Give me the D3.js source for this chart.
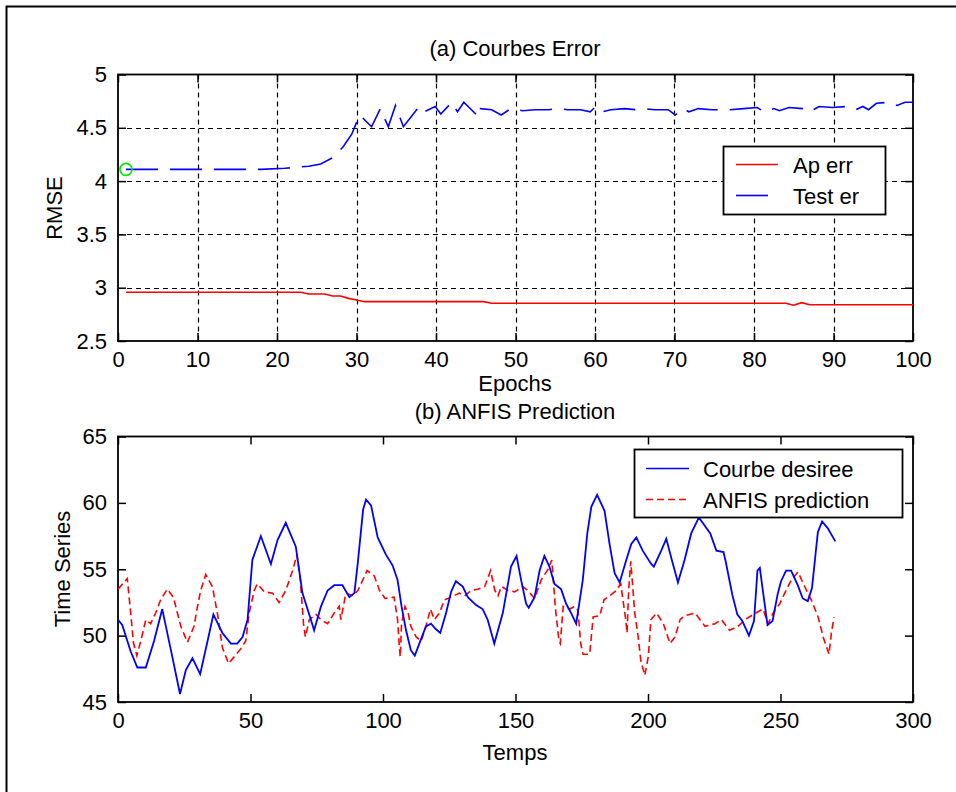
<!DOCTYPE html>
<html>
<head>
<meta charset="utf-8">
<script src="https://cdn.jsdelivr.net/npm/d3@7"></script>
<style>
  html, body { margin: 0; padding: 0; background: #fff; }
  svg { display: block; }
  text { font-family: "Liberation Sans", Arial, sans-serif; fill: #000; }
</style>
</head>
<body>
<svg id="chart" width="956" height="792"></svg>
<script>
// ---------- (a) Courbes Error ----------
const epochTicks = [0, 10, 20, 30, 40, 50, 60, 70, 80, 90, 100];
const rmseTicks = [2.5, 3, 3.5, 4, 4.5, 5];

const trainEpoch = [1, 23, 24, 26, 27, 28, 29, 30, 31, 46, 47, 84, 85, 86, 87, 100];
const trainErr   = [2.957, 2.957, 2.941, 2.941, 2.922, 2.922, 2.90, 2.885, 2.869, 2.869, 2.854, 2.854, 2.835, 2.86, 2.84, 2.84];

const testEpoch = [1, 18, 21, 24, 25.5, 27, 28.3, 29.4, 30.4, 31.9, 33, 34, 34.9, 35.9, 37.9, 38.5, 39.9, 40.6, 42, 42.7, 43.5, 45.4, 45.6, 47, 48.2, 49.4, 50.9, 52.5, 54.2, 55.1, 56.6, 58.2, 59.4, 60.1, 60.9, 62, 63.7, 65.1, 66.1, 67.5, 69.2, 70.1, 71.1, 71.8, 73, 74.7, 77, 78.7, 80.4, 81.3, 82.5, 83.2, 84.4, 86.1, 87, 88.2, 89.9, 91.6, 92.8, 93.7, 94.4, 95.4, 97, 98, 99, 100];
const testErr   = [4.11, 4.11, 4.12, 4.14, 4.16, 4.22, 4.32, 4.44, 4.62, 4.51, 4.68, 4.51, 4.71, 4.51, 4.70, 4.65, 4.70, 4.63, 4.74, 4.65, 4.74, 4.60, 4.68, 4.67, 4.62, 4.68, 4.66, 4.67, 4.67, 4.68, 4.67, 4.67, 4.65, 4.70, 4.65, 4.67, 4.68, 4.67, 4.68, 4.67, 4.67, 4.62, 4.68, 4.65, 4.68, 4.67, 4.67, 4.68, 4.69, 4.65, 4.68, 4.66, 4.69, 4.68, 4.65, 4.70, 4.69, 4.70, 4.67, 4.70, 4.67, 4.73, 4.74, 4.71, 4.74, 4.74];
const bestEpoch = [1];
const bestErr = [4.11];

// ---------- (b) ANFIS Prediction ----------
const tempsTicks = [0, 50, 100, 150, 200, 250, 300];
const seriesTicks = [45, 50, 55, 60, 65];

const desT = [0, 1.6, 4.8, 7.3, 10.5, 13.6, 16.7, 20.5, 23.4, 25.6, 28.1, 31, 33.8, 36, 39.4, 42.6, 45, 47, 48.9, 50.7, 53.9, 57.7, 60.2, 63.3, 67.1, 69.6, 72.8, 74, 76.6, 79.1, 81.6, 84.7, 87.3, 89.2, 90.5, 92.5, 93.6, 95.5, 98, 101.1, 103.6, 105.5, 107, 108.7, 110.5, 112, 114.1, 116.2, 118.1, 119.9, 121.6, 123.8, 125.7, 127.5, 130.1, 132, 135.1, 137.6, 139.5, 142, 145.2, 148.3, 150.4, 152.1, 154, 155, 157.2, 159.1, 160.9, 162.8, 164.7, 167.2, 169.1, 171, 172.9, 175.4, 177.1, 178.6, 180.8, 183.6, 185.5, 187.4, 189.3, 191.8, 193.7, 195.6, 198, 201.2, 202.2, 205, 206.9, 209, 211.3, 213.8, 216.3, 219.2, 223.5, 225.8, 228.5, 229.3, 231.8, 233.7, 235.6, 238.1, 240, 241.3, 242.2, 243.2, 245.1, 247, 248.9, 250.2, 252.1, 254, 256.5, 258.4, 260.3, 261.9, 263.2, 264.1, 265.7, 267.8, 270.7];
const desV = [51.2, 50.8, 48.8, 47.6, 47.6, 49.6, 52.0, 48.4, 45.6, 47.4, 48.3, 47.1, 49.6, 51.6, 50.2, 49.4, 49.4, 49.9, 51.2, 55.7, 57.5, 55.4, 57.2, 58.5, 56.7, 53.2, 51.2, 50.4, 52.2, 53.4, 53.8, 53.8, 52.9, 53.2, 55.5, 59.5, 60.25, 59.8, 57.4, 56.1, 55.3, 54.2, 52.2, 50.4, 48.9, 48.5, 49.6, 50.7, 50.9, 50.5, 50.2, 51.7, 53.3, 54.1, 53.7, 52.9, 52.3, 52.0, 51.2, 49.4, 51.7, 55.2, 56.0, 54.2, 52.4, 52.1, 52.9, 54.9, 56.0, 55.2, 53.9, 53.5, 52.4, 51.7, 50.9, 54.2, 57.7, 59.7, 60.6, 59.4, 56.9, 54.7, 54.0, 55.7, 56.9, 57.4, 56.4, 55.4, 55.2, 56.4, 57.3, 55.7, 54.0, 55.7, 57.7, 58.9, 57.7, 56.4, 56.3, 55.6, 53.1, 51.6, 51.1, 50.0, 51.1, 54.9, 55.1, 53.6, 50.8, 51.1, 53.1, 54.1, 54.9, 54.9, 53.8, 52.8, 52.6, 53.6, 56.1, 57.8, 58.6, 58.1, 57.1];

const predT = [0, 3.5, 4.8, 5.8, 7.1, 8.6, 10.5, 12.3, 14.2, 16.1, 18.6, 20.9, 23.7, 26.2, 28.7, 30, 31.2, 33.1, 35.6, 37.5, 39.4, 41.7, 43.8, 46.3, 48.2, 49.5, 51.4, 52.6, 55.2, 58.3, 60.8, 63.3, 65.9, 67.5, 68.8, 70, 70.7, 72.2, 74.7, 76.6, 79.1, 81.6, 83.5, 84.1, 86, 88.6, 90.5, 92.4, 94, 96.7, 98.7, 100.8, 104.2, 105.5, 106.1, 106.5, 107, 108.3, 109.5, 110.5, 112.5, 114.4, 116.2, 117.9, 119.4, 121.3, 123.2, 125.7, 128.8, 130.8, 133.3, 135.8, 138.4, 140.6, 142.2, 143.4, 144.7, 147.2, 149.7, 152.7, 154.6, 157.2, 159.7, 162.3, 163.7, 165, 166.4, 166.9, 168, 170.4, 172.4, 173.6, 174.6, 175.5, 178, 179.3, 181.8, 183.4, 185.5, 188.1, 189.7, 191.6, 192.1, 192.7, 193.5, 195, 196.3, 197.3, 198.8, 200.1, 201.1, 203.2, 205.8, 208.3, 210.2, 212.1, 214, 217.8, 221.5, 225.3, 227.7, 230.8, 234, 236.5, 239, 241.5, 243.4, 245.3, 247.2, 249.7, 251.6, 254.1, 256.6, 259.1, 261.6, 264.2, 266.1, 268.3, 269.2, 270.2];
const predV = [53.5, 54.3, 51.7, 49.5, 48.5, 49.6, 51.2, 50.9, 51.7, 52.7, 53.5, 52.9, 50.7, 49.5, 50.7, 52.2, 53.4, 54.6, 53.7, 51.7, 49.1, 47.9, 48.4, 49.0, 49.6, 51.7, 53.4, 53.9, 53.3, 53.2, 52.5, 53.4, 54.9, 56.1, 54.2, 50.9, 49.9, 51.2, 51.6, 51.2, 50.9, 51.7, 52.2, 51.2, 53.2, 53.0, 53.4, 54.2, 54.9, 54.5, 53.4, 52.8, 52.9, 51.2, 49.4, 48.4, 50.9, 52.2, 51.7, 50.7, 49.9, 49.6, 50.7, 52.0, 51.2, 51.7, 52.7, 52.9, 53.2, 53.0, 53.4, 53.5, 53.7, 54.9, 53.4, 53.0, 53.7, 53.4, 53.3, 53.7, 53.4, 52.8, 54.2, 55.0, 55.7, 52.2, 49.6, 49.4, 52.2, 52.0, 52.2, 51.9, 49.4, 48.6, 48.6, 51.4, 51.5, 52.7, 53.0, 53.4, 53.9, 51.2, 50.2, 53.4, 55.6, 51.7, 49.9, 48.1, 47.0, 48.4, 51.2, 51.7, 50.9, 49.4, 49.9, 51.2, 51.5, 51.7, 50.7, 50.9, 51.2, 50.4, 50.7, 51.2, 51.5, 51.8, 52.0, 50.9, 51.7, 52.4, 53.2, 54.2, 54.8, 53.7, 52.7, 51.4, 49.9, 48.6, 50.2, 51.4];

const labels = {
  titleA: "(a) Courbes Error", xA: "Epochs", yA: "RMSE",
  legA: ["Ap err", "Test er"],
  titleB: "(b) ANFIS Prediction", xB: "Temps", yB: "Time Series",
  legB: ["Courbe desiree", "ANFIS prediction"]
};

// ---------------- drawing ----------------
const svg = d3.select("#chart");
const FONT = 22;

// outer frame (left + top)
svg.append("path").attr("d", "M6.5,792V6.5H956").attr("fill", "none")
  .attr("stroke", "#000").attr("stroke-width", 2);

function panel(cfg) {
  const { left, right, top, bottom, xDomain, yDomain, xTicks, yTicks, grid } = cfg;
  const x = d3.scaleLinear().domain(xDomain).range([left, right]);
  const y = d3.scaleLinear().domain(yDomain).range([bottom, top]);
  const g = svg.append("g");

  if (grid) {
    const gg = g.append("g").attr("stroke", "#000").attr("stroke-width", 1.2)
      .attr("stroke-dasharray", "5 4");
    gg.selectAll(".vx").data(xTicks.slice(1, -1)).join("line")
      .attr("x1", d => Math.round(x(d)) + 0.5).attr("x2", d => Math.round(x(d)) + 0.5)
      .attr("y1", top).attr("y2", bottom);
    gg.selectAll(".hy").data(yTicks.slice(1, -1)).join("line")
      .attr("y1", d => Math.round(y(d)) + 0.5).attr("y2", d => Math.round(y(d)) + 0.5)
      .attr("x1", left).attr("x2", right);
  }

  const axB = g.append("g").attr("transform", `translate(0,${bottom})`)
    .call(d3.axisBottom(x).tickValues(xTicks).tickFormat(d => String(d)).tickSize(-8).tickPadding(10));
  const axT = g.append("g").attr("transform", `translate(0,${top})`)
    .call(d3.axisTop(x).tickValues(xTicks).tickFormat("").tickSize(-8));
  const axL = g.append("g").attr("transform", `translate(${left},0)`)
    .call(d3.axisLeft(y).tickValues(yTicks).tickFormat(d => String(d)).tickSize(-8).tickPadding(11));
  const axR = g.append("g").attr("transform", `translate(${right},0)`)
    .call(d3.axisRight(y).tickValues(yTicks).tickFormat("").tickSize(-8));
  [axB, axT, axL, axR].forEach(a => {
    a.select(".domain").remove();
    a.selectAll("line").attr("stroke", "#000").attr("stroke-width", 1.5);
    a.selectAll("text").attr("font-size", FONT).attr("font-family", '"Liberation Sans", Arial, sans-serif').attr("fill", "#000");
  });
  g.append("rect").attr("x", left).attr("y", top).attr("width", right - left).attr("height", bottom - top)
    .attr("fill", "none").attr("stroke", "#000").attr("stroke-width", 1.8);
  return { x, y, g };
}

// ----- panel A -----
const A = panel({ left: 118, right: 913, top: 74.5, bottom: 341, xDomain: [0, 100], yDomain: [2.5, 5],
  xTicks: epochTicks, yTicks: rmseTicks, grid: true });

const lineA = d3.line().x(d => A.x(d[0])).y(d => A.y(d[1]));
A.g.append("path").datum(d3.zip(trainEpoch, trainErr)).attr("d", lineA)
  .attr("fill", "none").attr("stroke", "#ff0000").attr("stroke-width", 1.6);
A.g.append("path").datum(d3.zip(testEpoch, testErr)).attr("d", lineA)
  .attr("fill", "none").attr("stroke", "#0000ff").attr("stroke-width", 1.6)
  .attr("stroke-dasharray", "32 12");
A.g.selectAll(".best").data(d3.zip(bestEpoch, bestErr)).join("circle")
  .attr("cx", d => A.x(d[0])).attr("cy", d => A.y(d[1])).attr("r", 6)
  .attr("fill", "none").attr("stroke", "#00ee00").attr("stroke-width", 1.6);

svg.append("text").attr("x", 515).attr("y", 56).attr("text-anchor", "middle")
  .attr("font-size", FONT).text(labels.titleA);
svg.append("text").attr("x", 515).attr("y", 391).attr("text-anchor", "middle")
  .attr("font-size", FONT).text(labels.xA);
svg.append("text").attr("transform", "translate(62,208) rotate(-90)").attr("text-anchor", "middle")
  .attr("font-size", FONT).text(labels.yA);

// legend A
const legA = svg.append("g");
legA.append("rect").attr("x", 723.5).attr("y", 146.5).attr("width", 162).attr("height", 68)
  .attr("fill", "#fff").attr("stroke", "#000").attr("stroke-width", 1.8);
[["#ff0000", null], ["#0000ff", "32 12"]].forEach((s, i) => {
  const yy = 164.5 + i * 31;
  legA.append("line").attr("x1", 736).attr("x2", 778).attr("y1", yy).attr("y2", yy)
    .attr("stroke", s[0]).attr("stroke-width", 1.6).attr("stroke-dasharray", s[1]);
  legA.append("text").attr("x", 793).attr("y", yy + 8).attr("font-size", FONT).text(labels.legA[i]);
});

// ----- panel B -----
const B = panel({ left: 118, right: 913, top: 436.5, bottom: 702, xDomain: [0, 300], yDomain: [45, 65],
  xTicks: tempsTicks, yTicks: seriesTicks, grid: false });

const lineB = d3.line().x(d => B.x(d[0])).y(d => B.y(d[1]));
B.g.append("path").datum(d3.zip(predT, predV)).attr("d", lineB)
  .attr("fill", "none").attr("stroke", "#ff0000").attr("stroke-width", 1.6)
  .attr("stroke-dasharray", "7 4");
B.g.append("path").datum(d3.zip(desT, desV)).attr("d", lineB)
  .attr("fill", "none").attr("stroke", "#0000ff").attr("stroke-width", 1.8);

svg.append("text").attr("x", 515).attr("y", 419).attr("text-anchor", "middle")
  .attr("font-size", FONT).text(labels.titleB);
svg.append("text").attr("x", 515).attr("y", 760).attr("text-anchor", "middle")
  .attr("font-size", FONT).text(labels.xB);
svg.append("text").attr("transform", "translate(70,569) rotate(-90)").attr("text-anchor", "middle")
  .attr("font-size", FONT).text(labels.yB);

// legend B
const legB = svg.append("g");
legB.append("rect").attr("x", 634.5).attr("y", 449.5).attr("width", 268).attr("height", 68)
  .attr("fill", "#fff").attr("stroke", "#000").attr("stroke-width", 1.8);
[["#0000ff", null], ["#ff0000", "7 4"]].forEach((s, i) => {
  const yy = 468.5 + i * 31;
  legB.append("line").attr("x1", 646).attr("x2", 689).attr("y1", yy).attr("y2", yy)
    .attr("stroke", s[0]).attr("stroke-width", 1.6).attr("stroke-dasharray", s[1]);
  legB.append("text").attr("x", 703).attr("y", yy + 8).attr("font-size", FONT).text(labels.legB[i]);
});
</script>
</body>
</html>
